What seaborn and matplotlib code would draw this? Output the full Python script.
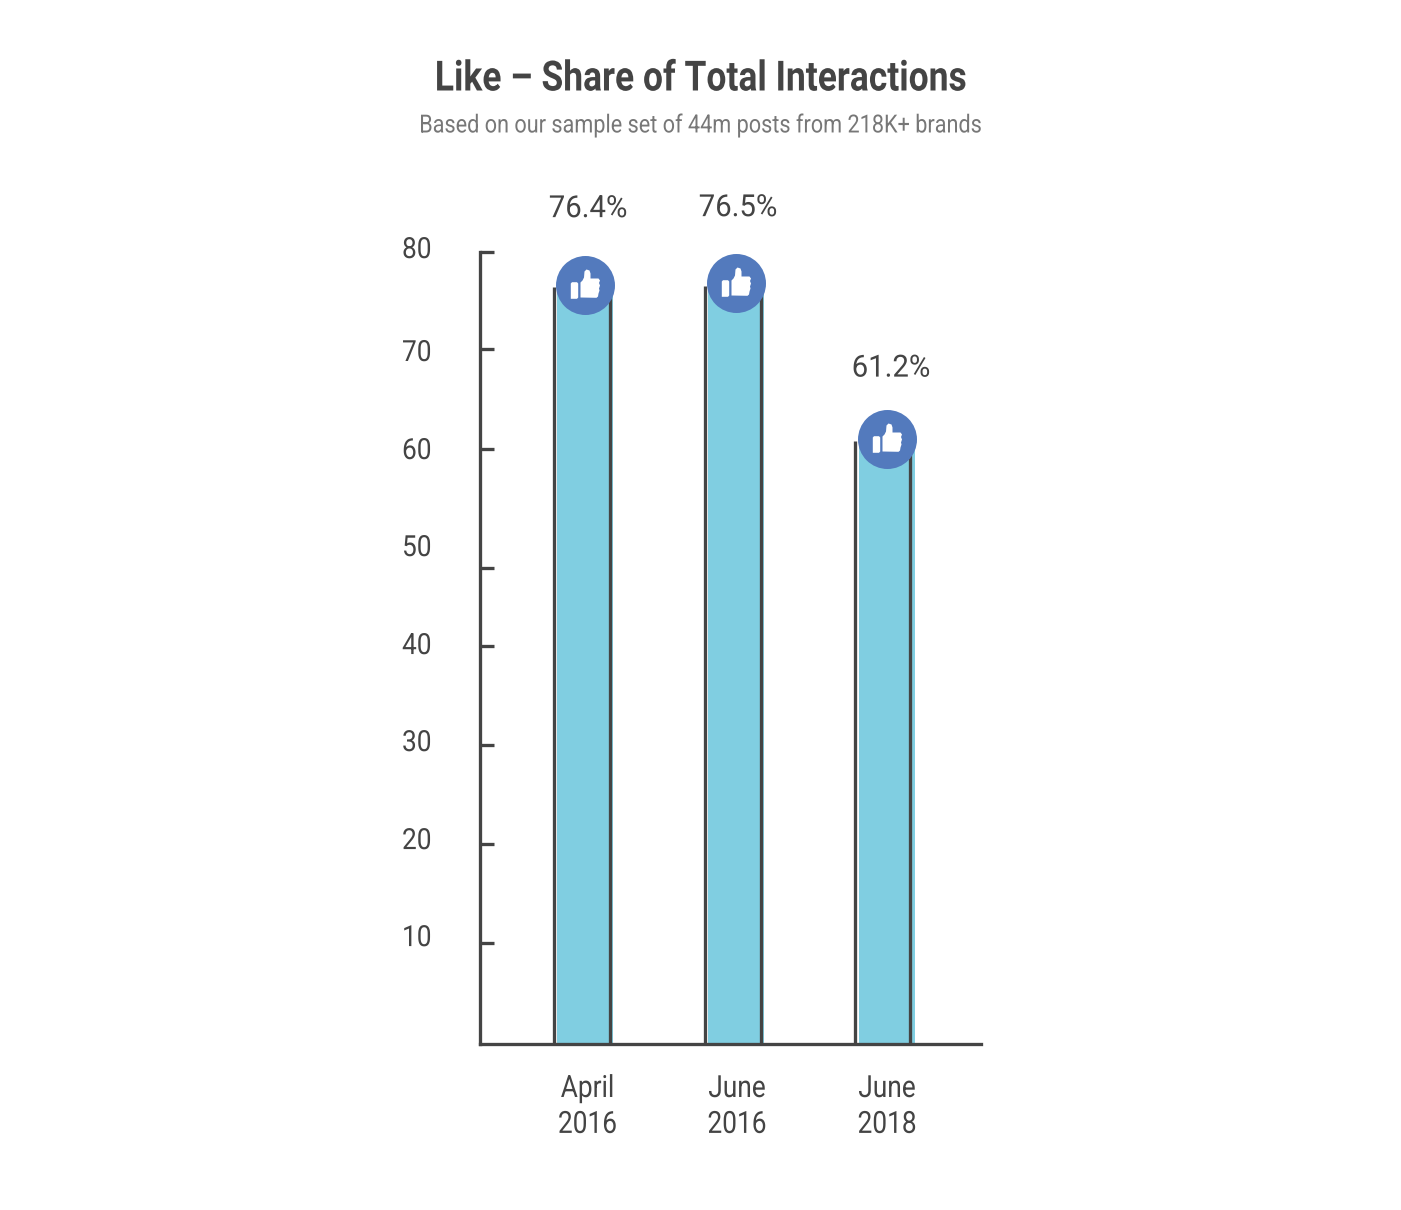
import numpy as np
import matplotlib
matplotlib.use("Agg")
import matplotlib.pyplot as plt
from matplotlib.path import Path
from matplotlib.patheffects import AbstractPathEffect
from matplotlib.transforms import Affine2D
import seaborn as sns

# values as printed on the chart
periods = ["April\n2016", "June\n2016", "June\n2018"]
shares = [76.4, 76.5, 61.2]
share_labels = ["76.4%", "76.5%", "61.2%"]

# heights as actually drawn in the picture (slightly off the printed numbers)
bar_heights = [76.5, 76.6, 60.9]
badge_heights = [76.7, 76.9, 61.1]

tick_marks = [10.2, 20.2, 30.2, 40.2, 48.1, 60.1, 70.2, 80]
tick_text_pos = [10.9, 20.7, 30.6, 40.4, 50.3, 60.1, 70.0, 80.4]
tick_text = ["10", "20", "30", "40", "50", "60", "70", "80"]

FONT = "Roboto"
DARK = "#444444"
BAR_BLUE = "#80CEE1"
BADGE_BLUE = "#537ABD"
PX = 0.72  # one pixel in points at dpi 100


# no Roboto Condensed installed, so squeeze Roboto sideways around an anchor
class Squeeze(AbstractPathEffect):
    def __init__(self, k, cx, dx=0):
        super().__init__()
        self.k = k
        self.cx = cx
        self.dx = dx

    def draw_path(self, renderer, gc, tpath, affine, rgbFace=None):
        squeeze = Affine2D().translate(-self.cx, 0).scale(self.k, 1).translate(self.cx + self.dx, 0)
        renderer.draw_path(gc, tpath, affine + squeeze, rgbFace)


def squeeze_text(text, k, anchor="center", dx=0):
    box = text.get_window_extent()
    cx = box.x1 if anchor == "right" else (box.x0 + box.x1) / 2
    text.set_path_effects([Squeeze(k, cx, dx)])


sns.set_theme(style="white")
plt.rcParams["font.family"] = [FONT, "DejaVu Sans"]

W, H = 1401, 1210
X_LEFT, X_RIGHT = 480, 980.5
fig = plt.figure(figsize=(W / 100, H / 100), dpi=100, facecolor="white")
ax = fig.add_axes([X_LEFT / W, 1 - 1044 / H, (X_RIGHT - X_LEFT) / W, (1044 - 252) / H])

sns.barplot(x=periods, y=bar_heights, color=BAR_BLUE, saturation=1, width=0.37, linewidth=0, ax=ax, zorder=2)

# dark outlines sit a little off the bars
xs = np.arange(len(periods))
left_off = np.array([-31.5, -31, -32.5]) / 151
right_off = np.array([24.5, 25, 22.5]) / 151
ax.vlines(xs + left_off, 0, bar_heights, color=DARK, lw=3.3 * PX, zorder=3)
ax.vlines(xs + right_off, 0, bar_heights, color=DARK, lw=3.3 * PX, zorder=3)

# thumbs up icon (y up, centred on the badge)
thumb = Path(
    [(-14.7, -13.3), (-14.7, 2), (-13.5, 3.3), (-8.5, 3.3), (-7.3, 2), (-7.3, -12), (-8.5, -13.3), (-14.7, -13.3),
     (-5, -12), (-5, 3), (-3, 5), (-1.5, 8), (-1, 14), (1, 16), (4, 15), (5, 12), (5, 7), (13, 7), (14.5, 5),
     (13.5, 2.5), (14.5, 0), (13.5, -3), (14, -5), (13, -8), (12.5, -11), (11, -12.3), (-5, -12)],
    [Path.MOVETO] + [Path.LINETO] * 6 + [Path.CLOSEPOLY] + [Path.MOVETO] + [Path.LINETO] * 17 + [Path.CLOSEPOLY],
)
ax.scatter(xs, badge_heights, s=(59 * PX) ** 2, color=BADGE_BLUE, linewidths=0, zorder=5, clip_on=False)
ax.scatter(xs, badge_heights, s=(32 * PX) ** 2, marker=thumb, color="white", linewidths=0, zorder=6, clip_on=False)

ax.set_xlabel("")
ax.set_ylabel("")

ax.set_yticks(tick_marks, [""] * len(tick_marks))
ax.set_xlim((X_LEFT - 585) / 151, (X_RIGHT - 585) / 151)
ax.set_ylim(0, 80)
ax.tick_params(axis="y", direction="in", length=14 * PX, width=3.3 * PX, color=DARK, left=True)
ax.tick_params(axis="x", length=0, pad=30 * PX, labelsize=22, labelcolor=DARK)

for side in ["top", "right"]:
    ax.spines[side].set_visible(False)
for side in ["left", "bottom"]:
    ax.spines[side].set_color(DARK)
    ax.spines[side].set_linewidth(3.3 * PX)
    ax.spines[side].set_zorder(4)

# y labels do not line up with their tick marks in the original
y_texts = []
for pos, txt in zip(tick_text_pos, tick_text):
    y_texts.append(ax.annotate(txt, (0, pos), xycoords=ax.get_yaxis_transform(), xytext=(-48.5 * PX, -2 * PX),
                               textcoords="offset points", ha="right", va="center", fontsize=21, color=DARK,
                               annotation_clip=False))

# percentage labels
lifts = [79, 79, 70]
shifts = [3, 2, 4]
value_texts = []
for x, v, txt, lift, shift in zip(xs, shares, share_labels, lifts, shifts):
    value_texts.append(ax.annotate(txt, (x, v), xytext=(shift * PX, lift * PX), textcoords="offset points",
                                   ha="center", va="center", fontsize=22, color=DARK, annotation_clip=False))

title = fig.text(700.5 / W, 1 - 79 / H, "Like \u2013 Share of Total Interactions", ha="center", va="center",
                 fontsize=30, fontweight="bold", color=DARK)
subtitle = fig.text(700.5 / W, 1 - 125 / H, "Based on our sample set of 44m posts from 218K+ brands", ha="center",
                    va="center", fontsize=18, color="#777777")

for t in ax.get_xticklabels():
    t.set_linespacing(1.3)

fig.canvas.draw()
squeeze_text(title, 0.85)
squeeze_text(subtitle, 0.866)
for t in value_texts:
    squeeze_text(t, 0.96)
for t, shift in zip(ax.get_xticklabels(), [2.5, 1, 0]):
    squeeze_text(t, 0.86, dx=shift)
for t in y_texts:
    squeeze_text(t, 0.9, anchor="right")

fig.savefig("out.png", dpi=100, facecolor="white")
